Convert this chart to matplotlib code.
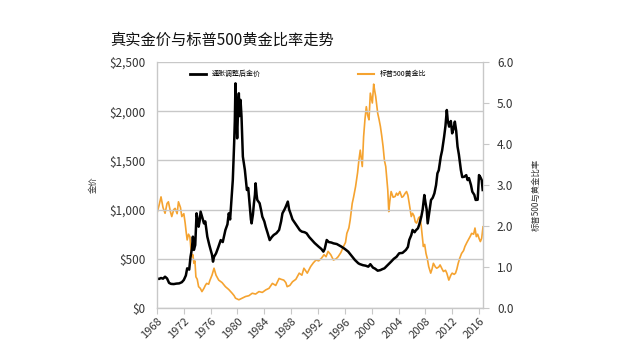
import matplotlib
matplotlib.use("Agg")
import matplotlib.pyplot as plt
from matplotlib.lines import Line2D

plt.rcParams['font.family'] = ['Noto Sans CJK SC', 'DejaVu Sans']

title = "真实金价与标普500黄金比率走势"
gold_label = "通胀调整后金价"
ratio_label = "标普500黄金比"
left_ylabel = "金价"
right_ylabel = "标普500与黄金比率"

gold_years = [1968.0, 1968.3, 1968.6, 1968.9, 1969.2, 1969.5, 1969.8, 1970.1, 1970.5, 1970.9,
              1971.3, 1971.7, 1972.0, 1972.3, 1972.5, 1972.8, 1973.0, 1973.2, 1973.35, 1973.5,
              1973.7, 1973.9, 1974.05, 1974.2, 1974.35, 1974.5, 1974.7, 1975.0, 1975.2, 1975.5,
              1975.8, 1976.0, 1976.2, 1976.35, 1976.5, 1976.8, 1977.1, 1977.5, 1977.8, 1978.2,
              1978.5, 1978.7, 1978.9, 1979.1, 1979.3, 1979.5, 1979.6, 1979.7, 1979.8, 1979.95,
              1980.1, 1980.2, 1980.3, 1980.45, 1980.6, 1980.8, 1981.0, 1981.1, 1981.4, 1981.6,
              1981.8, 1982.0, 1982.1, 1982.3, 1982.45, 1982.6, 1982.7, 1982.85, 1982.95, 1983.3,
              1983.5, 1983.7, 1984.0, 1984.2, 1984.5, 1984.8, 1985.1, 1985.4, 1985.8, 1986.2,
              1986.5, 1986.7, 1987.0, 1987.2, 1987.5, 1987.7, 1987.9, 1988.2, 1988.6, 1989.0,
              1989.3, 1989.6, 1990.0, 1990.3, 1990.7, 1991.1, 1991.5, 1991.8, 1992.1, 1992.5,
              1992.8, 1993.0, 1993.3, 1993.6, 1994.0, 1994.3, 1994.8, 1995.2, 1995.5, 1996.0,
              1996.5, 1997.0, 1997.5, 1998.0, 1998.2, 1998.7, 1999.1, 1999.5, 1999.8, 2000.2,
              2000.5, 2000.9, 2001.3, 2001.6, 2001.9, 2002.3, 2002.6, 2002.9, 2003.3, 2003.7,
              2004.1, 2004.6, 2005.1, 2005.4, 2005.6, 2005.9, 2006.1, 2006.4, 2006.6, 2006.9,
              2007.1, 2007.4, 2007.6, 2007.85, 2008.0, 2008.2, 2008.35, 2008.6, 2008.85, 2009.1,
              2009.35, 2009.6, 2009.8, 2010.0, 2010.3, 2010.5, 2010.8, 2011.0, 2011.2, 2011.35,
              2011.55, 2011.8, 2012.0, 2012.2, 2012.4, 2012.6, 2012.8, 2013.0, 2013.3, 2013.5,
              2013.8, 2014.1, 2014.3, 2014.5, 2014.8, 2015.0, 2015.3, 2015.5, 2015.8, 2016.0,
              2016.2, 2016.4, 2016.55]
gold_vals = [300, 295, 305, 298, 318, 300, 255, 245, 243, 248,
             250, 262, 285, 330, 403, 390, 521, 600, 725, 590,
             640, 962, 900, 826, 880, 979, 930, 860, 880, 725,
             640, 590, 540, 471, 520, 555, 610, 690, 670, 793,
             850, 962, 900, 1098, 1300, 1673, 1900, 2283, 2000, 1724,
             2050, 2182, 1950, 2115, 1944, 1538, 1450, 1402, 1199, 1220,
             1064, 900, 860, 950, 1064, 1150, 1267, 1150, 1098, 1064,
             1000, 928, 880, 826, 760, 690, 720, 742, 760, 793,
             880, 962, 1000, 1030, 1081, 1000, 962, 900, 860, 820,
             790, 776, 770, 759, 720, 690, 660, 641, 623, 600,
             573, 600, 691, 670, 665, 657, 650, 635, 623, 600,
             573, 530, 488, 455, 447, 435, 430, 420, 445, 410,
             400, 379, 385, 395, 403, 430, 450, 471, 500, 520,
             556, 560, 590, 620, 691, 740, 793, 770, 790, 810,
             850, 928, 1000, 1148, 1080, 1000, 860, 980, 1098, 1120,
             1165, 1250, 1368, 1400, 1538, 1600, 1741, 1850, 2012, 1900,
             1843, 1900, 1775, 1820, 1894, 1800, 1640, 1560, 1402, 1330,
             1334, 1350, 1300, 1320, 1250, 1182, 1150, 1098, 1100, 1351,
             1330, 1300, 1199]

ratio_years = [1968.0, 1968.3, 1968.6, 1968.9, 1969.2, 1969.5, 1969.7, 1970.0, 1970.2, 1970.5,
               1970.7, 1971.0, 1971.2, 1971.5, 1971.7, 1972.0, 1972.2, 1972.35, 1972.5, 1972.7,
               1972.9, 1973.05, 1973.2, 1973.35, 1973.5, 1973.65, 1973.8, 1974.0, 1974.2, 1974.45,
               1974.7, 1975.0, 1975.2, 1975.4, 1975.7, 1975.9, 1976.2, 1976.5, 1976.8, 1977.2,
               1977.7, 1978.2, 1978.7, 1979.2, 1979.5, 1979.7, 1980.2, 1980.7, 1981.2, 1981.7,
               1982.2, 1982.7, 1983.2, 1983.7, 1984.2, 1984.7, 1985.2, 1985.7, 1986.2, 1986.5,
               1986.9, 1987.2, 1987.4, 1987.8, 1988.2, 1988.7, 1989.2, 1989.6, 1989.9, 1990.4,
               1990.9, 1991.3, 1991.7, 1992.1, 1992.5, 1992.9, 1993.2, 1993.5, 1993.9, 1994.3,
               1994.7, 1995.0, 1995.4, 1995.8, 1996.1, 1996.3, 1996.6, 1996.8, 1997.1, 1997.3,
               1997.6, 1997.9, 1998.1, 1998.3, 1998.6, 1998.8, 1999.0, 1999.2, 1999.4, 1999.6,
               1999.8, 2000.1, 2000.3, 2000.45, 2000.6, 2000.9, 2001.1, 2001.3, 2001.5, 2001.7,
               2001.9, 2002.1, 2002.4, 2002.55, 2002.7, 2002.9, 2003.2, 2003.5, 2003.7, 2003.9,
               2004.2, 2004.5, 2004.7, 2005.0, 2005.2, 2005.4, 2005.6, 2005.9, 2006.1, 2006.3,
               2006.5, 2006.7, 2007.0, 2007.2, 2007.4, 2007.55, 2007.7, 2007.9, 2008.1, 2008.3,
               2008.5, 2008.8, 2009.0, 2009.2, 2009.5, 2009.7, 2010.0, 2010.2, 2010.5, 2010.7,
               2011.0, 2011.2, 2011.5, 2011.8, 2012.0, 2012.3, 2012.5, 2012.7, 2012.9, 2013.1,
               2013.4, 2013.7, 2013.9, 2014.2, 2014.4, 2014.7, 2014.9, 2015.2, 2015.4, 2015.6,
               2015.8, 2016.0, 2016.2, 2016.4, 2016.6]
ratio_vals = [2.31, 2.50, 2.71, 2.45, 2.31, 2.55, 2.59, 2.35, 2.23, 2.40,
              2.43, 2.30, 2.59, 2.45, 2.23, 2.30, 2.07, 1.85, 1.66, 1.80,
              1.74, 1.45, 1.25, 1.30, 1.09, 1.15, 0.76, 0.70, 0.52, 0.48,
              0.40, 0.48, 0.55, 0.60, 0.58, 0.68, 0.80, 0.97, 0.80, 0.68,
              0.62, 0.52, 0.45, 0.36, 0.30, 0.24, 0.20, 0.24, 0.28, 0.30,
              0.36, 0.34, 0.40, 0.38, 0.44, 0.48, 0.60, 0.55, 0.72, 0.70,
              0.68, 0.62, 0.52, 0.55, 0.64, 0.70, 0.85, 0.80, 0.97, 0.85,
              1.01, 1.10, 1.17, 1.15, 1.21, 1.30, 1.25, 1.38, 1.30, 1.17,
              1.20, 1.25, 1.35, 1.50, 1.60, 1.82, 1.95, 2.15, 2.55, 2.70,
              2.96, 3.30, 3.61, 3.85, 3.45, 4.18, 4.60, 4.91, 4.70, 4.59,
              5.24, 5.00, 5.46, 5.30, 5.16, 4.75, 4.60, 4.43, 4.20, 3.94,
              3.60, 3.45, 2.88, 2.35, 2.60, 2.84, 2.70, 2.72, 2.80, 2.75,
              2.84, 2.70, 2.72, 2.80, 2.84, 2.75, 2.55, 2.23, 2.31, 2.25,
              2.10, 2.07, 2.20, 2.23, 1.98, 1.75, 1.50, 1.55, 1.33, 1.20,
              1.01, 0.85, 0.95, 1.09, 1.00, 0.97, 1.00, 1.05, 0.95, 0.89,
              0.92, 0.85, 0.68, 0.80, 0.85, 0.82, 0.85, 0.95, 1.09, 1.20,
              1.33, 1.40, 1.50, 1.60, 1.66, 1.75, 1.82, 1.80, 1.95, 1.74,
              1.80, 1.70, 1.62, 1.70, 1.98]

x_ticks = list(range(1968, 2017, 4))
left_ticks = [0, 500, 1000, 1500, 2000, 2500]
left_ticklabels = ["$0", "$500", "$1,000", "$1,500", "$2,000", "$2,500"]
right_ticks = [0, 1, 2, 3, 4, 5, 6]

fig = plt.figure(figsize=(6.31, 3.53), dpi=100)
ax = fig.add_axes([0.2488, 0.1275, 0.5167, 0.6969])
ax2 = ax.twinx()

black = "#000000"
orange = "#F5A330"
grid_c = "#c8c8c8"
txt_c = "#333333"

ax.set_zorder(2)
ax.patch.set_visible(False)
ax2.set_zorder(1)

ax2.plot(ratio_years, ratio_vals, color=orange, lw=1.2)
ax.plot(gold_years, gold_vals, color=black, lw=1.8)

ax.set_xlim(1968, 2016.6)
ax.set_ylim(0, 2500)
ax2.set_ylim(0, 6)
ax.set_yticks(left_ticks)
ax.set_yticklabels(left_ticklabels)
ax2.set_yticks(right_ticks)
ax2.set_yticklabels([f"{v:.1f}" for v in right_ticks])
ax.set_xticks(x_ticks)
ax.set_xticklabels([str(y) for y in x_ticks], rotation=45, ha='right', rotation_mode='anchor')

ax.yaxis.grid(True, color=grid_c, lw=1)
ax.set_axisbelow(True)
for a in (ax, ax2):
    a.spines['top'].set_visible(False)
    for s in ('left', 'right', 'bottom'):
        a.spines[s].set_color(grid_c)
        a.spines[s].set_linewidth(1)
ax.spines['right'].set_visible(False)
ax2.spines['left'].set_visible(False)
ax2.spines['bottom'].set_visible(False)

ax.tick_params(axis='x', length=4, color=grid_c, labelsize=8, labelcolor=txt_c, pad=2)
ax.tick_params(axis='y', length=0, labelsize=8.5, labelcolor=txt_c, pad=8)
ax2.tick_params(axis='y', length=4, color=grid_c, labelsize=8.5, labelcolor=txt_c, pad=6)

fig.text(110/631, 1 - 40/353, title, fontsize=11, color="#111111", va='center', ha='left')
fig.text(93/631, 1 - 185/353, left_ylabel, fontsize=6, rotation=90, va='center', ha='center', color=txt_c)
fig.text(536/631, 1 - 195/353, right_ylabel, fontsize=6, rotation=90, va='center', ha='center', color=txt_c)

h1 = Line2D([], [], color=black, lw=2)
h2 = Line2D([], [], color=orange, lw=1.5)
leg1 = ax.legend([h1], [gold_label], loc='center left', bbox_to_anchor=(30/326, 1 - 12/246),
                 frameon=False, fontsize=5, handlelength=2.2, handletextpad=0.8, borderpad=0)
ax.add_artist(leg1)
ax.legend([h2], [ratio_label], loc='center left', bbox_to_anchor=(198/326, 1 - 12/246),
          frameon=False, fontsize=5, handlelength=2.2, handletextpad=0.8, borderpad=0)

fig.savefig("out.png", dpi=100, facecolor='white')
